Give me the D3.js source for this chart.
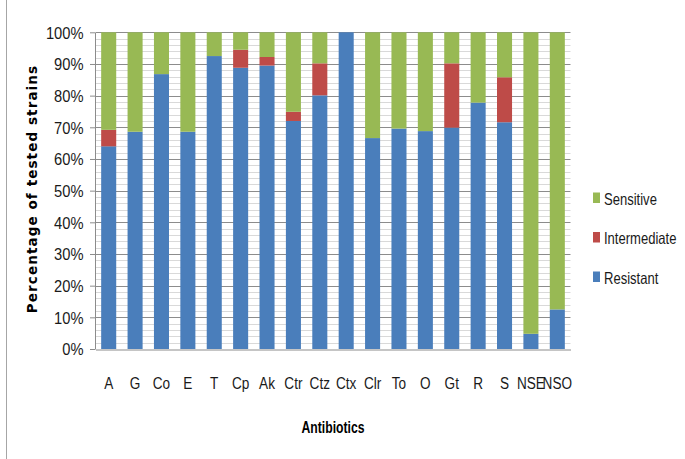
<!DOCTYPE html>
<html><head><meta charset="utf-8">
<script src="https://cdn.jsdelivr.net/npm/d3@7"></script>
<style>body{margin:0;background:#fff}svg{display:block}</style>
</head><body>
<svg id="c" width="685" height="459"></svg>
<script>
const categories = ["A","G","Co","E","T","Cp","Ak","Ctr","Ctz","Ctx","Clr","To","O","Gt","R","S","NSE","NSO"];
const resistant    = [64, 68.6, 86.8, 68.6, 92.5, 88.8, 89.5, 72.0, 80.1, 100, 66.6, 69.6, 68.8, 69.9, 77.8, 71.6, 4.8, 12.5];
const intermediate = [5.2, 0, 0, 0, 0, 5.7, 2.7, 2.9, 10.1, 0, 0, 0, 0, 20.3, 0, 14.2, 0, 0];
const sensitive    = [30.8, 31.4, 13.2, 31.4, 7.5, 5.5, 7.8, 25.1, 9.8, 0, 33.4, 30.4, 31.2, 9.8, 22.2, 14.2, 95.2, 87.5];
const seriesNames = ["Resistant","Intermediate","Sensitive"];
const legendNames = ["Sensitive","Intermediate","Resistant"];
const yTicks = [0,10,20,30,40,50,60,70,80,90,100];

const colors = {Resistant:"#4A7EBB", Intermediate:"#BE4B48", Sensitive:"#98B954"};
const font = "'Liberation Sans',Arial,sans-serif";

const svg = d3.select("#c");
const m = {left:95.5, right:570.5, top:32.3, bottom:349};
const x = d3.scaleBand().domain(categories).range([m.left, m.right]).paddingInner(0.43).paddingOuter(0.215);
const y = d3.scaleLinear().domain([0,100]).range([m.bottom, m.top]);

// frame line at left
svg.append("line").attr("x1",6.5).attr("x2",6.5).attr("y1",0).attr("y2",459).attr("stroke","#a6a6a6").attr("stroke-width",1);

// minor gridlines
const minor = d3.range(0,101,2).filter(v=>v%10!==0);
svg.append("g").selectAll("line").data(minor).join("line")
  .attr("x1",m.left).attr("x2",m.right).attr("y1",d=>Math.round(y(d))+0.5).attr("y2",d=>Math.round(y(d))+0.5)
  .attr("stroke","#d9d9d9").attr("stroke-width",1);
// major gridlines
svg.append("g").selectAll("line").data(yTicks.filter(v=>v>0)).join("line")
  .attr("x1",m.left).attr("x2",m.right).attr("y1",d=>Math.round(y(d))+0.5).attr("y2",d=>Math.round(y(d))+0.5)
  .attr("stroke","#8c8c8c").attr("stroke-width",1);

// stacked bars
const rows = categories.map((c,i)=>({cat:c, Resistant:resistant[i], Intermediate:intermediate[i], Sensitive:sensitive[i]}));
const stack = d3.stack().keys(seriesNames)(rows);
svg.append("g").selectAll("g").data(stack).join("g").attr("fill",d=>colors[d.key])
  .selectAll("rect").data(d=>d).join("rect")
  .attr("x",d=>x(d.data.cat)).attr("width",x.bandwidth())
  .attr("y",d=>y(Math.min(100,d[1]))).attr("height",d=>Math.max(0,y(d[0])-y(Math.min(100,d[1]))));

// y axis
const yAxis = d3.axisLeft(y).tickValues(yTicks).tickFormat(d=>d+"%").tickSize(5).tickSizeOuter(0).tickPadding(7.5);
const ya = svg.append("g").attr("transform",`translate(${m.left-0.5},0)`).call(yAxis);
ya.select(".domain").attr("stroke","#8c8c8c");
ya.selectAll(".tick line").attr("stroke","#8c8c8c");
ya.selectAll(".tick text").attr("font-family",font).attr("font-size",16).attr("fill","#1a1a1a")
  .attr("transform","scale(0.92,1)").attr("dy","0.36em");

// x axis
const xAxis = d3.axisBottom(x).tickSize(0).tickPadding(27);
const xa = svg.append("g").attr("transform",`translate(0,${m.bottom+0.5})`).call(xAxis);
xa.select(".domain").attr("stroke","#8c8c8c");
xa.selectAll(".tick text").attr("font-family",font).attr("font-size",17).attr("fill","#1a1a1a")
  .attr("transform","scale(0.8,1)");

// axis titles
svg.append("text").attr("transform","translate(333,433) scale(0.74,1)").attr("text-anchor","middle")
  .attr("font-family",font).attr("font-weight","bold").attr("font-size",16.5).attr("fill","#000").text("Antibiotics");
svg.append("text").attr("transform","translate(37,189) rotate(-90)").attr("text-anchor","middle")
  .attr("font-family","'DejaVu Sans',sans-serif").attr("font-weight","bold").attr("font-size",13.5)
  .attr("letter-spacing",1.1).attr("fill","#000")
  .text("Percentage of tested strains");

// legend
const lg = svg.append("g");
legendNames.forEach((k,i)=>{
  const yy = 192.5 + i*39.5;
  lg.append("rect").attr("x",593).attr("y",yy).attr("width",7).attr("height",10.5).attr("fill",colors[k]);
  lg.append("text").attr("transform",`translate(604,${yy+12}) scale(0.8,1)`).attr("font-family",font)
    .attr("font-size",16.3).attr("fill","#1a1a1a").text(k);
});
</script>
</body></html>
